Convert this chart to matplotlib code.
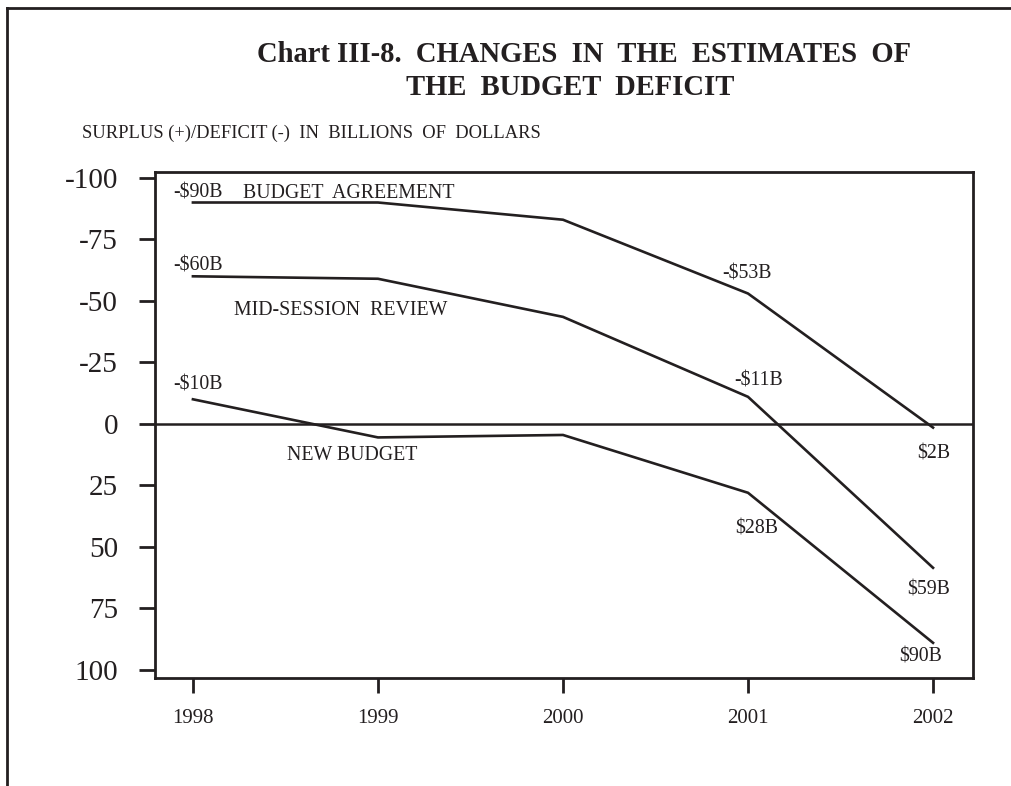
import matplotlib
matplotlib.use('Agg')
import matplotlib.pyplot as plt
from matplotlib.lines import Line2D

plt.rcParams['font.family'] = ['Liberation Serif', 'DejaVu Serif']

years = [1998, 1999, 2000, 2001, 2002]
budget_agreement = [-90, -90, -83, -53, 1.5]
mid_session = [-60, -59, -43.5, -11, 58.5]
new_budget = [-10, 5.5, 4.5, 28, 89]

y_ticks = [-100, -75, -50, -25, 0, 25, 50, 75, 100]
y_labels = ['-100', '-75', '-50', '-25', '0', '25', '50', '75', '100']
x_labels = ['1998', '1999', '2000', '2001', '2002']

# (text, x, y) in data units, baseline-left anchored
notes = [
    ('-$90B', 1997.892, -91.9),
    ('BUDGET  AGREEMENT', 1998.27, -91.9),
    ('-$60B', 1997.892, -62.2),
    ('MID-SESSION  REVIEW', 1998.22, -44.3),
    ('-$10B', 1997.895, -13.8),
    ('NEW BUDGET', 1998.506, 14.6),
    ('-$53B', 2000.863, -59.2),
    ('-$11B', 2000.926, -15.6),
    ('$2B', 2001.915, 14.0),
    ('$28B', 2000.933, 44.4),
    ('$59B', 2001.861, 69.5),
    ('$90B', 2001.816, 96.6),
]

ink = '#231f20'

fig = plt.figure(figsize=(10.12, 7.86), dpi=100)
ax = fig.add_axes([155 / 1012, 1 - 678 / 786, 818 / 1012, 506 / 786])

for series in [budget_agreement, mid_session, new_budget]:
    ax.plot(years, series, color=ink, lw=1.9, solid_joinstyle='miter')
ax.axhline(0, color=ink, lw=1.8)

ax.set_xlim(1997.795, 2002.216)
ax.set_ylim(103.3, -102.4)

ax.set_yticks(y_ticks)
ax.set_yticklabels(y_labels)
ax.set_xticks(years)
ax.set_xticklabels(x_labels)
ax.tick_params(axis='y', direction='out', length=11.5, width=2, pad=15,
               labelsize=21, color=ink, labelcolor=ink)
ax.tick_params(axis='x', direction='out', length=11, width=2, pad=11.5,
               labelsize=15, color=ink, labelcolor=ink)
for sp in ax.spines.values():
    sp.set_linewidth(2)
    sp.set_color(ink)

for txt, x, y in notes:
    ax.text(x, y, txt, fontsize=14.3, color=ink, ha='left', va='baseline')

fig.text(584 / 1012, 1 - 62 / 786, 'Chart III-8.  CHANGES  IN  THE  ESTIMATES  OF',
         fontsize=20.6, fontweight='bold', color=ink, ha='center', va='baseline')
fig.text(570 / 1012, 1 - 95 / 786, 'THE  BUDGET  DEFICIT',
         fontsize=20.6, fontweight='bold', color=ink, ha='center', va='baseline')
fig.text(82 / 1012, 1 - 138 / 786, 'SURPLUS (+)/DEFICIT (-)  IN  BILLIONS  OF  DOLLARS',
         fontsize=13.3, color=ink, ha='left', va='baseline')

# page frame (top and left edges)
fig.add_artist(Line2D([7 / 1012, 1.0], [1 - 8 / 786, 1 - 8 / 786],
                      transform=fig.transFigure, color=ink, lw=2))
fig.add_artist(Line2D([7 / 1012, 7 / 1012], [1 - 8 / 786, 0.0],
                      transform=fig.transFigure, color=ink, lw=2))

fig.savefig('out.png', dpi=100)
